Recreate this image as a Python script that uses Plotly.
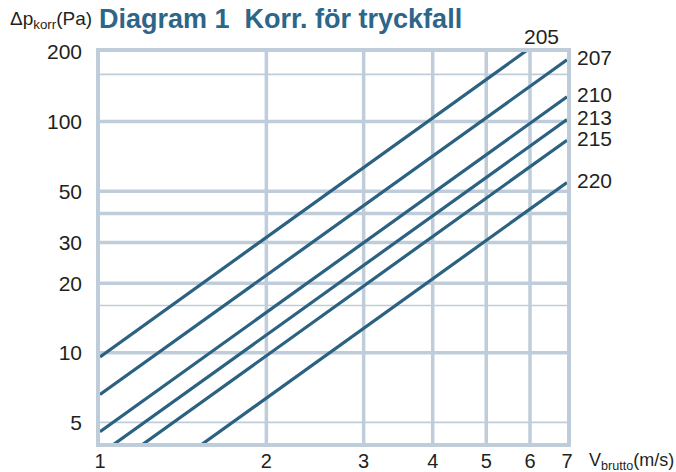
import numpy as np
import plotly.graph_objects as go

# ---- data ----
x_points = [1, 7]
series_names = ["205", "207", "210", "213", "215", "220"]
series_values = {
    "205": [9.6, 271],
    "207": [6.6, 185],
    "210": [4.55, 128],
    "213": [3.64, 102],
    "215": [2.96, 83],
    "220": [1.94, 54.5],
}
x_tickvals = [1, 2, 3, 4, 5, 6, 7]
y_tickvals = [5, 10, 20, 30, 50, 100, 200]
grid_thick_y = [10, 20, 30, 40, 50, 100]
grid_thin_y = [5, 16, 160]
grid_x = [2, 3, 4, 5, 6]

LINE = "#2b6281"
GRID = "#bfcdda"
TXT = "#231f20"
FONT = "Liberation Sans"

fig = go.Figure()
for name in series_names:
    fig.add_trace(go.Scatter(x=x_points, y=series_values[name], mode="lines",
                             line=dict(color=LINE, width=3.2), name=name,
                             showlegend=False, hoverinfo="skip"))

shapes = []
for v in grid_thick_y:
    shapes.append(dict(type="line", xref="paper", yref="y", x0=0, x1=1, y0=v, y1=v,
                       line=dict(color=GRID, width=3.5), layer="below"))
for v in grid_thin_y:
    shapes.append(dict(type="line", xref="paper", yref="y", x0=0, x1=1, y0=v, y1=v,
                       line=dict(color=GRID, width=1.6), layer="below"))
for v in grid_x:
    shapes.append(dict(type="line", xref="x", yref="paper", x0=v, x1=v, y0=0, y1=1,
                       line=dict(color=GRID, width=3.5), layer="below"))

ymax = 200
annotations = []
for name in series_names:
    y1, y7 = series_values[name]
    if y7 > ymax:
        slope = (np.log10(y7) - np.log10(y1)) / np.log10(7)
        xt = 10 ** ((np.log10(ymax) - np.log10(y1)) / slope)
        annotations.append(dict(x=np.log10(xt), y=np.log10(ymax), xref="x", yref="y",
                                text=name, showarrow=False, xanchor="center",
                                yanchor="middle", xshift=17, yshift=16,
                                font=dict(size=21, color=TXT, family=FONT)))
    else:
        annotations.append(dict(x=np.log10(7), y=np.log10(y7), xref="x", yref="y",
                                text=name, showarrow=False, xanchor="left",
                                yanchor="middle", xshift=8, yshift=2,
                                font=dict(size=21, color=TXT, family=FONT)))

annotations.append(dict(x=-0.197, y=1.082, xref="paper", yref="paper",
                        text="Δp<sub>korr</sub>(Pa)", showarrow=False,
                        xanchor="left", yanchor="middle",
                        font=dict(size=19, color=TXT, family=FONT)))
annotations.append(dict(x=1.043, y=-0.048, xref="paper", yref="paper",
                        text="V<sub>brutto</sub>(m/s)", showarrow=False,
                        xanchor="left", yanchor="middle",
                        font=dict(size=18, color=TXT, family=FONT)))
annotations.append(dict(x=-0.006, y=1.085, xref="paper", yref="paper",
                        text="<b>Diagram 1  Korr. för tryckfall</b>", showarrow=False,
                        xanchor="left", yanchor="middle",
                        font=dict(size=27, color="#2c6688", family=FONT)))

fig.update_layout(
    width=676, height=472,
    margin=dict(l=100, r=109, t=52, b=29),
    paper_bgcolor="white", plot_bgcolor="white",
    shapes=shapes, annotations=annotations,
    xaxis=dict(type="log", range=[0, np.log10(7)], tickvals=x_tickvals,
               ticktext=[str(v) for v in x_tickvals], showgrid=False,
               showline=True, linecolor=GRID, linewidth=3.5, mirror=True,
               ticks="", ticklabelstandoff=-3, zeroline=False, automargin=False,
               tickfont=dict(size=20, color=TXT, family=FONT)),
    yaxis=dict(type="log", range=[np.log10(4.07), np.log10(200)], tickvals=y_tickvals,
               ticktext=[str(v) for v in y_tickvals], showgrid=False,
               showline=True, linecolor=GRID, linewidth=3.5, mirror=True,
               ticks="", ticklabelstandoff=10, zeroline=False, automargin=False,
               tickfont=dict(size=21, color=TXT, family=FONT)),
)

fig.write_html("out.html", config={"displayModeBar": False},
               post_script="document.body.style.margin='0';")
